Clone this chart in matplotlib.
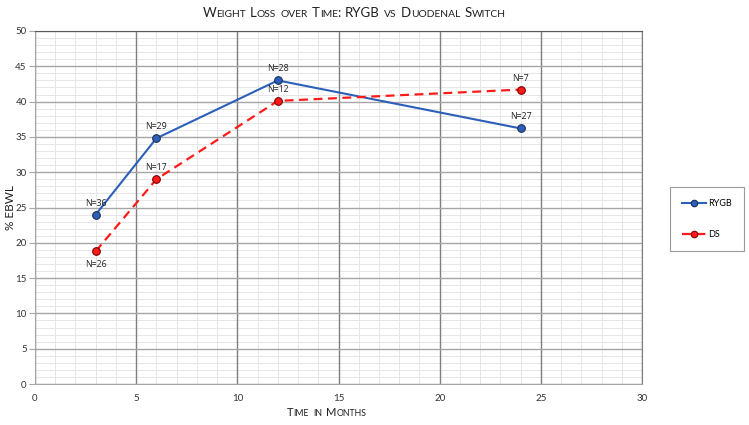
import matplotlib
matplotlib.use("Agg")
import matplotlib.pyplot as plt
from matplotlib.offsetbox import TextArea, HPacker, AnchoredOffsetbox
from matplotlib.ticker import MultipleLocator

plt.rcParams["font.family"] = ["Lato", "DejaVu Sans"]

months = [3, 6, 12, 24]
rygb = [24.0, 34.8, 43.0, 36.2]
ds = [18.8, 29.0, 40.1, 41.7]
rygb_n = ["N=36", "N=29", "N=28", "N=27"]
ds_n = ["N=26", "N=17", "N=12", "N=7"]

fig = plt.figure(figsize=(7.49, 4.25), dpi=100)
ax = fig.add_axes([35/749, 1 - 384/425, (642 - 35)/749, (384 - 31)/425])

ax.set_xlim(0, 30)
ax.set_ylim(0, 50)
ax.xaxis.set_major_locator(MultipleLocator(5))
ax.yaxis.set_major_locator(MultipleLocator(5))

# light minor grid every 1 unit, kept under the major lines
minor_x = [v for v in range(1, 30) if v % 5]
minor_y = [v for v in range(1, 50) if v % 5]
ax.vlines(minor_x, 0, 1, transform=ax.get_xaxis_transform(), color="#e6e6e6",
          linewidth=0.7, zorder=0.1)
ax.hlines(minor_y, 0, 1, transform=ax.get_yaxis_transform(), color="#e6e6e6",
          linewidth=0.7, zorder=0.1)
ax.grid(which="major", axis="y", color="#a6a6a6", linewidth=1.0)
ax.grid(which="major", axis="x", color="#7f7f7f", linewidth=1.0)
ax.set_axisbelow(True)
for s in ["left", "bottom"]:
    ax.spines[s].set_color("#a6a6a6")
ax.spines["top"].set_color("#595959")
ax.spines["right"].set_color("#7f7f7f")
ax.tick_params(which="both", length=0, labelsize=7, colors="#333333", pad=7)
ax.tick_params(axis="y", which="major", length=4, color="#a6a6a6", pad=2)

ax.plot(months, rygb, color="#2c5fb8", linewidth=1.5, marker="o", markersize=5.5,
        markerfacecolor="#2c5fb8", markeredgecolor="#1a2f5a", markeredgewidth=0.8,
        label="RYGB", zorder=3)
ax.plot(months, ds, color="#ff1a1a", linewidth=1.6, linestyle=(0, (4, 2.5)), marker="o",
        markersize=5.5, markerfacecolor="#ff1a1a", markeredgecolor="#7a0000",
        markeredgewidth=0.8, label="DS", zorder=3)

nfont = dict(fontsize=6.3, color="#202020", family=["Open Sans", "DejaVu Sans"])
for x, y, t in zip(months, rygb, rygb_n):
    ax.annotate(t, (x, y), xytext=(0, 5), textcoords="offset points", ha="center",
                va="bottom", **nfont)
for i, (x, y, t) in enumerate(zip(months, ds, ds_n)):
    off = (0, -6) if i == 0 else (0, 5)
    ax.annotate(t, (x, y), xytext=off, textcoords="offset points", ha="center",
                va="top" if i == 0 else "bottom", **nfont)

ax.set_ylabel("% EBWL", fontsize=8.5, color="#202020", labelpad=-0.5)

leg = fig.legend(loc="center", bbox_to_anchor=(707/749, 1 - 219/425), fontsize=6.5,
                 frameon=True, fancybox=False, edgecolor="#808080", labelspacing=2.4,
                 handlelength=2.6, handletextpad=0.3, borderpad=1.3, markerscale=0.85)
leg.get_frame().set_linewidth(0.8)


def caps_box(segments, color="#202020"):
    words = []
    for seg in segments:
        words.append(HPacker(children=[TextArea(p, textprops=dict(fontsize=s, color=color))
                                       for p, s in seg], align="baseline", pad=0, sep=0))
    return HPacker(children=words, align="baseline", pad=0, sep=3)


title = caps_box([
    [("W", 9.5), ("EIGHT", 7.4)], [("L", 9.5), ("OSS", 7.4)], [("OVER", 7.4)],
    [("T", 9.5), ("IME", 7.4), (":", 9.5)], [("RYGB", 9.5)], [("VS", 7.4)],
    [("D", 9.5), ("UODENAL", 7.4)], [("S", 9.5), ("WITCH", 7.4)]])
fig.add_artist(AnchoredOffsetbox(loc="center", child=title, frameon=False,
                                 bbox_to_anchor=(354/749, 1 - 13/425),
                                 bbox_transform=fig.transFigure, pad=0, borderpad=0))

xlab = caps_box([[("T", 8), ("IME", 6.3)], [("IN", 6.3)], [("M", 8), ("ONTHS", 6.3)]])
fig.add_artist(AnchoredOffsetbox(loc="center", child=xlab, frameon=False,
                                 bbox_to_anchor=(327/749, 1 - 413/425),
                                 bbox_transform=fig.transFigure, pad=0, borderpad=0))

fig.savefig("out.png", dpi=100)
